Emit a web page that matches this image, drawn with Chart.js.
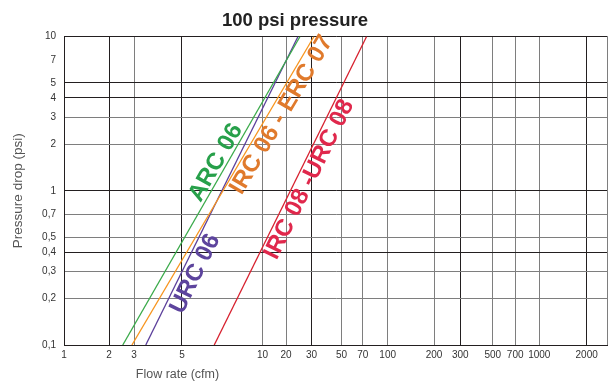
<!DOCTYPE html>
<html>
<head>
<meta charset="utf-8">
<title>100 psi pressure</title>
<script src="https://cdn.jsdelivr.net/npm/chart.js@4.4.0/dist/chart.umd.min.js"></script>
<style>
  html, body { margin: 0; padding: 0; background: #fff; }
  #wrap { width: 610px; height: 382px; position: relative; }
</style>
</head>
<body>
<div id="wrap"><canvas id="chart"></canvas></div>
<script>
// pressure drop at 100 psi
const seriesNames = ['ARC 06', 'IRC 06 - ERC 07', 'URC 06', 'IRC 08 -URC 08'];
const psiEnds = [0.1, 10];
const flowAtLow = [2.5, 2.9, 3.4, 6.6];     // cfm where each line leaves 0,1 psi
const flowAtHigh = [25, 31.3, 24.2, 74];    // cfm where each line reaches 10 psi

const xTicks = [1, 2, 3, 5, 10, 20, 30, 50, 70, 100, 200, 300, 500, 700, 1000, 2000];
const yTicks = [0.1, 0.2, 0.3, 0.4, 0.5, 0.7, 1, 2, 3, 4, 5, 7, 10];

// label spot along each line (in psi) and its distance off the line
const labelPsi = [1.41, 3.4, 0.315, 1.28];
const labelShift = [-10, 12, 13, 12];

const lineColors = ['#3aaa4a', '#f7941d', '#5b3f9b', '#d7202e'];
const textColors = ['#27a04a', '#e07a2c', '#5d449d', '#e0284c'];
const dark = '#231f20';
const light = '#7e7e7e';
const majorX = [1, 2, 5, 30, 300, 2000];
const majorY = [10, 5, 4, 1, 0.4, 0.1];

Chart.defaults.font.family = "'Liberation Sans', Arial, Helvetica, sans-serif";

// the flow axis on the sheet is hand spaced, not a true log axis,
// so every tick gets its own spot as a fraction of the axis width
const xSpots = [0, 0.0828, 0.1288, 0.2171, 0.3652, 0.4085, 0.4554, 0.5106, 0.5496,
                0.5956, 0.6808, 0.7292, 0.789, 0.8302, 0.8745, 0.9617];
const xEnd = 2700;

class SheetScale extends Chart.Scale {
  determineDataLimits() {
    this.min = xTicks[0];
    this.max = xEnd;
  }
  buildTicks() {
    return xTicks.map(v => ({value: v}));
  }
  getLabelForValue(v) {
    return String(v);
  }
  _breaks() {
    return xTicks.map((v, i) => [Math.log10(v), xSpots[i]]).concat([[Math.log10(xEnd), 1]]);
  }
  getPixelForValue(value) {
    const b = this._breaks();
    const v = Math.log10(value);
    let i = 0;
    while (i < b.length - 2 && v > b[i + 1][0]) i++;
    const t = (v - b[i][0]) / (b[i + 1][0] - b[i][0]);
    return this.getPixelForDecimal(b[i][1] + t * (b[i + 1][1] - b[i][1]));
  }
  getValueForPixel(pixel) {
    const b = this._breaks();
    const d = this.getDecimalForPixel(pixel);
    let i = 0;
    while (i < b.length - 2 && d > b[i + 1][1]) i++;
    const t = (d - b[i][1]) / (b[i + 1][1] - b[i][1]);
    return Math.pow(10, b[i][0] + t * (b[i + 1][0] - b[i][0]));
  }
}
SheetScale.id = 'sheet';
SheetScale.defaults = {};
Chart.register(SheetScale);

// title, x title, right frame edge and the labels written along the lines
const sheetText = {
  id: 'sheetText',
  afterDatasetsDraw(chart) {
    const {ctx, chartArea, scales} = chart;
    ctx.save();
    ctx.strokeStyle = light;
    ctx.lineWidth = 1;
    ctx.beginPath();
    ctx.moveTo(chartArea.right, chartArea.top);
    ctx.lineTo(chartArea.right, chartArea.bottom);
    ctx.stroke();

    ctx.textAlign = 'center';
    ctx.textBaseline = 'middle';
    chart.data.datasets.forEach((ds, i) => {
      const pts = chart.getDatasetMeta(i).data;
      const p0 = pts[0], p1 = pts[1];
      const ay = scales.y.getPixelForValue(labelPsi[i]);
      const ax = p0.x + (ay - p0.y) * (p1.x - p0.x) / (p1.y - p0.y);
      ctx.save();
      ctx.translate(ax, ay);
      ctx.rotate(Math.atan2(p1.y - p0.y, p1.x - p0.x));
      ctx.fillStyle = textColors[i];
      ctx.font = "bold 24px 'Liberation Sans', Arial, sans-serif";
      ctx.fillText(ds.label, 0, labelShift[i]);
      ctx.restore();
    });

    ctx.fillStyle = '#222';
    ctx.font = "bold 18.5px 'Liberation Sans', Arial, sans-serif";
    ctx.fillText('100 psi pressure', 295, 21);
    ctx.fillStyle = '#555';
    ctx.font = "12.5px 'Liberation Sans', Arial, sans-serif";
    ctx.fillText('Flow rate (cfm)', 177.5, 375);
    ctx.restore();
  }
};

const datasets = seriesNames.map((name, i) => ({
  label: name,
  data: [{x: flowAtLow[i], y: psiEnds[0]}, {x: flowAtHigh[i], y: psiEnds[1]}],
  borderColor: lineColors[i],
  borderWidth: 1.3,
  pointRadius: 0,
  fill: false,
  tension: 0
}));

new Chart(document.getElementById('chart'), {
  type: 'line',
  data: {datasets},
  options: {
    responsive: true,
    maintainAspectRatio: false,
    animation: false,
    layout: {padding: {top: 36.5, right: 2.5, left: 0, bottom: 0}},
    plugins: {
      legend: {display: false},
      tooltip: {enabled: false}
    },
    scales: {
      x: {
        type: 'sheet',
        position: 'bottom',
        grid: {
          color: c => majorX.includes(c.tick && c.tick.value) ? dark : light,
          lineWidth: 1,
          drawTicks: false
        },
        border: {color: dark},
        ticks: {autoSkip: false, maxRotation: 0, padding: 4, color: '#333', font: {size: 10}},
        afterFit: s => { s.height = 37; }
      },
      y: {
        type: 'logarithmic',
        min: 0.1,
        max: 10,
        afterBuildTicks: s => { s.ticks = yTicks.map(v => ({value: v})); },
        grid: {
          color: c => {
            const v = c.tick && c.tick.value;
            if (v === 7) return 'rgba(0,0,0,0)';
            return majorY.includes(v) ? dark : light;
          },
          lineWidth: 1,
          drawTicks: false
        },
        border: {color: dark},
        ticks: {
          autoSkip: false,
          padding: 8,
          color: '#333',
          font: {size: 10},
          callback: v => String(v).replace('.', ',')
        },
        title: {
          display: true,
          text: 'Pressure drop (psi)',
          color: '#555',
          font: {size: 13.5},
          padding: {top: 10, bottom: 0}
        },
        afterFit: s => { s.width = 64; }
      }
    }
  },
  plugins: [sheetText]
});
</script>
</body>
</html>
